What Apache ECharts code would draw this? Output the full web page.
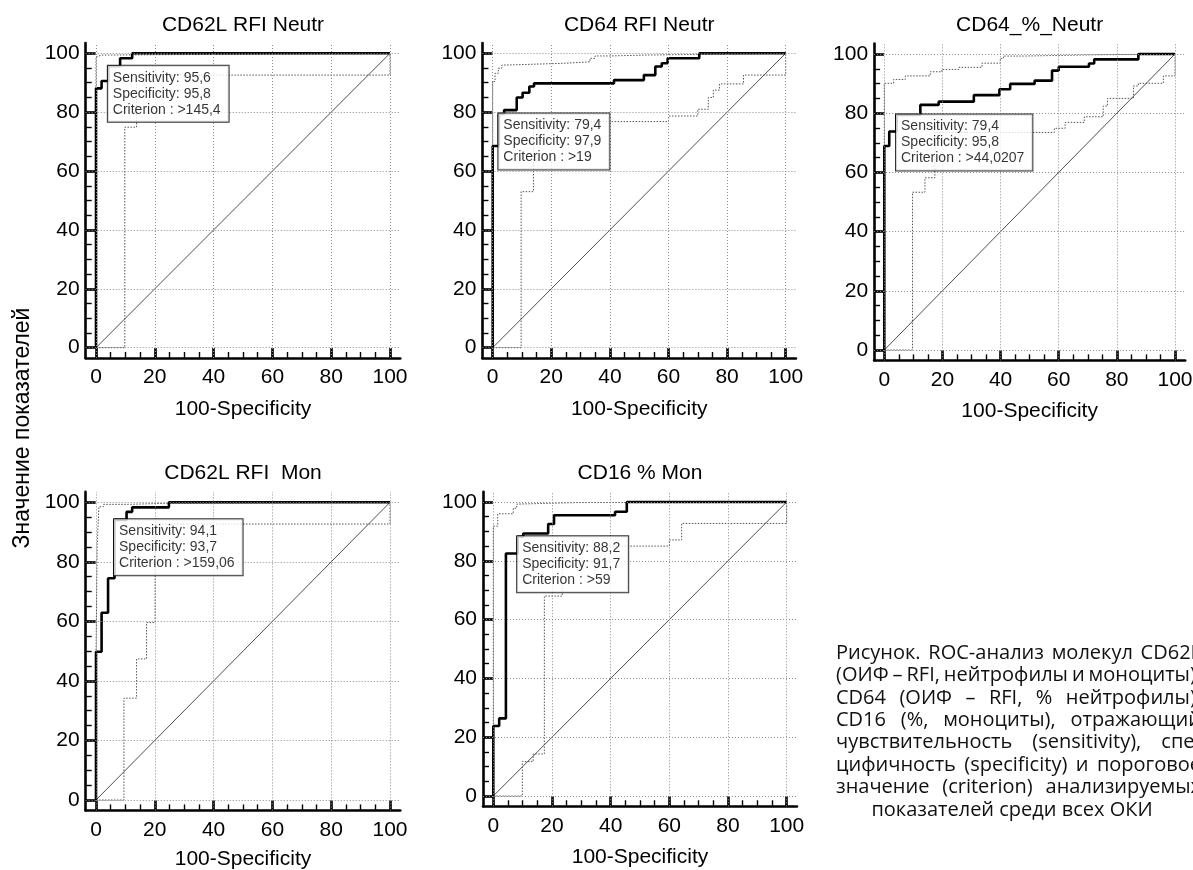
<!DOCTYPE html>
<html>
<head>
<meta charset="utf-8">
<script src="https://cdn.jsdelivr.net/npm/echarts@6/dist/echarts.min.js"></script>
<style>
  html, body { margin: 0; padding: 0; background: #fff; }
  #chart { width: 1193px; height: 870px; }
</style>
</head>
<body>
<div id="chart"></div>
<script>
// ROC-кривые: значения (x = 100-Specificity, y = Sensitivity)
const panelTitles = ["CD62L RFI Neutr", "CD64 RFI Neutr", "CD64_%_Neutr", "CD62L RFI  Mon", "CD16 % Mon"];
const sensitivity = [95.6, 79.4, 79.4, 94.1, 88.2];
const specificity = [95.8, 97.9, 95.8, 93.7, 91.7];
const criterion = [">145,4", ">19", ">44,0207", ">159,06", ">59"];

const majorTicks = [0, 20, 40, 60, 80, 100];
const minorTicks = [0, 5, 10, 15, 20, 25, 30, 35, 40, 45, 50, 55, 60, 65, 70, 75, 80, 85, 90, 95, 100];
const chanceLine = [[0, 0], [100, 100]];

// each point = top of a riser; the curve runs right first, then up
const cd62lNeutrRoc = [[0, 0], [0, 88.1], [1.9, 90.6], [4.2, 95.6], [8.2, 98.3], [12.3, 100], [100, 100]];
const cd62lNeutrUpper = [[0, 0], [0, 98.8], [0.5, 99.4], [2, 100], [100, 100]];
const cd62lNeutrLower = [[0, 0], [9.8, 74.9], [13.8, 92.6], [100, 100]];

const cd64NeutrRoc = [[0, 0], [0, 68.5], [2.1, 79.4], [3.9, 80.7], [8.2, 85.0], [10.2, 86.6], [12.5, 88.7],
  [14.1, 89.8], [41.4, 90.9], [51.6, 92.6], [55.5, 95.5], [57.7, 96.6], [59.7, 98.3], [70.5, 100], [100, 100]];
const cd64NeutrUpper = [[0, 0], [0, 90.4], [0.8, 93.2], [1.9, 94.9], [3.1, 96], [4.2, 96.6], [24.1, 97.1],
  [33.2, 98.3], [34.9, 99.1], [40.3, 99.4], [52, 100], [100, 100]];
const cd64NeutrLower = [[0, 0], [9.7, 53], [13.9, 76.8], [60, 78.7], [70, 81], [73.6, 85], [75.3, 87.5],
  [77.4, 89.6], [85.6, 92.6], [100, 100]];

const cd64PctNeutrRoc = [[0, 0], [0, 68.9], [1.7, 73.8], [4.2, 79.4], [12.4, 82.8], [18.7, 83.9], [30.8, 86.1],
  [39.6, 88.1], [43.3, 89.9], [51.7, 91], [57.7, 94.4], [60, 95.7], [70.4, 96.8], [72.2, 98.2], [87.4, 100], [100, 100]];
const cd64PctNeutrUpper = [[0, 0], [0, 90.1], [3.2, 91.4], [7.2, 92.6], [15.8, 94.0], [19.8, 94.8], [25.7, 95.5],
  [33.6, 96.9], [39.9, 98.5], [41, 99.3], [47.8, 99.7], [70.8, 100], [100, 100]];
const cd64PctNeutrLower = [[0, 0], [9.7, 53.3], [14.0, 58.2], [17.4, 73.5], [58.5, 74.9], [62.2, 76.9], [68.8, 78.8],
  [75.3, 82.4], [76.8, 85.0], [85.7, 89.2], [87.4, 90.1], [96, 92.6], [100, 100]];

const cd62lMonRoc = [[0, 0], [0, 49.8], [1.9, 62.9], [4.1, 74.5], [6.3, 94.1], [10.4, 96.8], [12.3, 98.3], [24.8, 100], [100, 100]];
const cd62lMonUpper = [[0, 0], [0, 48], [0.4, 86], [1, 98.5], [2.5, 99.3], [11, 99.7], [25, 100], [100, 100]];
const cd62lMonLower = [[0, 0], [9.5, 34.2], [13.8, 47.4], [17.2, 59.6], [20.1, 92.7], [100, 100]];

const cd16MonRoc = [[0, 0], [0, 23.8], [2, 26.4], [4.3, 82.5], [8.3, 88.2], [10.2, 89.3], [18.7, 92.5], [20.7, 95.5],
  [41.5, 96.7], [45.5, 100], [100, 100]];
const cd16MonUpper = [[0, 0], [0, 91.8], [1.5, 96.0], [6.8, 97.9], [8.0, 99.3], [9.1, 99.8], [28.4, 100], [100, 100]];
const cd16MonLower = [[0, 0], [9.9, 11.7], [13.6, 14.3], [17.4, 68], [23.5, 85], [60, 87.1], [64.2, 92.7], [100, 100]];

const rocCurves = [cd62lNeutrRoc, cd64NeutrRoc, cd64PctNeutrRoc, cd62lMonRoc, cd16MonRoc];
const upperBounds = [cd62lNeutrUpper, cd64NeutrUpper, cd64PctNeutrUpper, cd62lMonUpper, cd16MonUpper];
const lowerBounds = [cd62lNeutrLower, cd64NeutrLower, cd64PctNeutrLower, cd62lMonLower, cd16MonLower];

const captionLines = [
  "Рисунок. ROC-анализ молекул CD62L",
  "(ОИФ – RFI, нейтрофилы и моноциты),",
  "CD64 (ОИФ – RFI, % нейтрофилы),",
  "CD16 (%, моноциты), отражающий",
  "чувствительность (sensitivity), спе-",
  "цифичность (specificity) и пороговое",
  "значение (criterion) анализируемых",
  "показателей среди всех ОКИ"
];
const yAxisTitle = "Значение показателей";
const xAxisTitle = "100-Specificity";

// layout: pixel position of value 0 and 100 on each plot
const plotBoxes = [
  { x0: 96, x100: 390, y100: 53.3, y0: 347.7, titleY: 25, nameGap: 41 },
  { x0: 492.7, x100: 785.7, y100: 53.3, y0: 347.7, titleY: 25, nameGap: 41 },
  { x0: 884.3, x100: 1175, y100: 54, y0: 350, titleY: 25, nameGap: 40 },
  { x0: 96, x100: 390, y100: 502.3, y0: 800, titleY: 473, nameGap: 38 },
  { x0: 493.3, x100: 786.7, y100: 502, y0: 796, titleY: 473, nameGap: 40 }
];

const AX_MIN = -3.5, AX_MAX = 103.5;
const FONT = '"Liberation Sans", Arial, sans-serif';
const CAPTION_FONT = '20px "Open Sans", "Noto Sans", sans-serif';

const fmt = v => v.toFixed(1).replace(".", ",");

const grids = [], xAxes = [], yAxes = [], series = [], graphics = [];

plotBoxes.forEach((b, i) => {
  const span = AX_MAX - AX_MIN;
  const pw = b.x100 - b.x0, ph = b.y0 - b.y100;
  grids.push({
    left: b.x0 + AX_MIN / 100 * pw,
    top: b.y100 - (AX_MAX - 100) / 100 * ph,
    width: pw * span / 100,
    height: ph * span / 100,
    containLabel: false,
    outerBoundsMode: "none"
  });

  const axisText = { fontSize: 21, color: "#000", fontFamily: FONT };
  xAxes.push({
    gridIndex: i, type: "value", min: AX_MIN, max: AX_MAX, position: "bottom",
    axisLine: { show: true, onZero: false, lineStyle: { color: "#000", width: 2.6 } },
    axisTick: { show: true, inside: true, length: 10, customValues: majorTicks, lineStyle: { color: "#000", width: 2.6 } },
    axisLabel: Object.assign({ customValues: majorTicks, margin: 9 }, axisText),
    splitLine: { show: false },
    name: xAxisTitle, nameLocation: "middle", nameGap: b.nameGap,
    nameTextStyle: axisText
  });
  xAxes.push({
    gridIndex: i, type: "value", min: AX_MIN, max: AX_MAX, position: "bottom",
    axisLine: { show: false, onZero: false },
    axisTick: { show: true, inside: true, length: 6, customValues: minorTicks, lineStyle: { color: "#000", width: 1.4 } },
    axisLabel: { show: false },
    splitLine: { show: false }
  });
  yAxes.push({
    gridIndex: i, type: "value", min: AX_MIN, max: AX_MAX, position: "left",
    axisLine: { show: true, onZero: false, lineStyle: { color: "#000", width: 2.6 } },
    axisTick: { show: true, inside: true, length: 10, customValues: majorTicks, lineStyle: { color: "#000", width: 2.6 } },
    axisLabel: Object.assign({ customValues: majorTicks, margin: 6 }, axisText),
    splitLine: { show: false }
  });
  yAxes.push({
    gridIndex: i, type: "value", min: AX_MIN, max: AX_MAX, position: "left",
    axisLine: { show: false, onZero: false },
    axisTick: { show: true, inside: true, length: 6, customValues: minorTicks, lineStyle: { color: "#000", width: 1.4 } },
    axisLabel: { show: false },
    splitLine: { show: false }
  });

  const ax = { xAxisIndex: 2 * i, yAxisIndex: 2 * i };

  // diagonal + dotted grid
  series.push(Object.assign({
    type: "line", data: chanceLine, symbol: "none", silent: true,
    lineStyle: { color: "#222", width: 0.8 },
    markLine: {
      silent: true, symbol: ["none", "none"], label: { show: false },
      lineStyle: { color: "#8a8a8a", width: 1, type: [1, 2] },
      data: majorTicks.map(v => ({ xAxis: v })).concat(majorTicks.map(v => ({ yAxis: v })))
    }
  }, ax));

  [lowerBounds[i], upperBounds[i]].forEach(bound => {
    series.push(Object.assign({
      type: "line", step: "end", data: bound, symbol: "none", silent: true,
      lineStyle: { color: "#555", width: 1, type: [1.5, 1.5] }
    }, ax));
  });

  series.push(Object.assign({
    type: "line", step: "end", data: rocCurves[i], symbol: "none", silent: true,
    lineStyle: { color: "#000", width: 2.6 }
  }, ax));

  // criterion box anchored at the cut-off point
  series.push(Object.assign({
    type: "scatter", z: 10, silent: true, symbolSize: 1,
    itemStyle: { color: "transparent" },
    data: [[100 - specificity[i], sensitivity[i]]],
    label: {
      show: true, position: [0, 0], align: "left", verticalAlign: "top",
      formatter: "Sensitivity: " + fmt(sensitivity[i]) + "\nSpecificity: " + fmt(specificity[i]) +
        "\nCriterion : " + criterion[i],
      fontSize: 14, lineHeight: 16, fontFamily: FONT, color: "#000",
      backgroundColor: "#fff", borderColor: "#000", borderWidth: 1, padding: [4, 8, 4, 5]
    }
  }, ax));

  graphics.push({
    type: "text", x: (b.x0 + b.x100) / 2, y: b.titleY, silent: true,
    style: {
      text: panelTitles[i], font: "21px " + FONT, fill: "#000",
      align: "center", textAlign: "center", verticalAlign: "middle", textVerticalAlign: "middle"
    }
  });
});

graphics.push({
  type: "text", x: 23, y: 428, rotation: Math.PI / 2, silent: true,
  style: {
    text: yAxisTitle, font: "23px " + FONT, fill: "#000",
    align: "center", textAlign: "center", verticalAlign: "middle", textVerticalAlign: "middle"
  }
});

// подпись к рисунку: строки выравниваются по ширине, последняя по центру
const captionLeft = 836, captionRight = 1201, captionTop = 653, captionStep = 22.4;
const measureCtx = document.createElement("canvas").getContext("2d");
measureCtx.font = CAPTION_FONT;
captionLines.forEach((line, k) => {
  const y = captionTop + k * captionStep;
  const textStyle = { font: CAPTION_FONT, fill: "#111", verticalAlign: "middle", textVerticalAlign: "middle" };
  if (k === captionLines.length - 1) {
    graphics.push({
      type: "text", x: 1012, y: y, silent: true,
      style: Object.assign({ text: line, align: "center", textAlign: "center" }, textStyle)
    });
    return;
  }
  const words = line.split(" ");
  const widths = words.map(w => measureCtx.measureText(w).width);
  const total = widths.reduce((a, c) => a + c, 0);
  const gap = (captionRight - captionLeft - total) / (words.length - 1);
  let x = captionLeft;
  words.forEach((w, j) => {
    graphics.push({
      type: "text", x: x, y: y, silent: true,
      style: Object.assign({ text: w, align: "left", textAlign: "left" }, textStyle)
    });
    x += widths[j] + gap;
  });
});

const chart = echarts.init(document.getElementById("chart"));
chart.setOption({
  animation: false,
  backgroundColor: "#fff",
  grid: grids,
  xAxis: xAxes,
  yAxis: yAxes,
  series: series,
  graphic: graphics
});
window.addEventListener("resize", function () {
  chart.resize();
});
</script>
</body>
</html>
